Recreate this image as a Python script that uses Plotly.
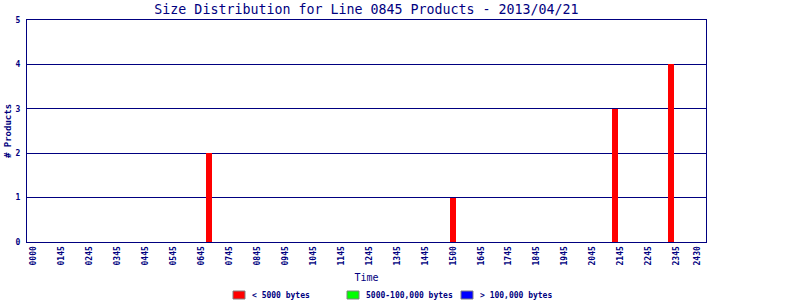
import plotly.graph_objects as go

# Data
bar_hours = [6.29, 15.0, 20.79, 22.79]          # bar positions (hours on time axis)
small_counts = [2, 1, 3, 4]                      # < 5000 bytes
medium_counts = [0, 0, 0, 0]                     # 5000-100,000 bytes
large_counts = [0, 0, 0, 0]                      # > 100,000 bytes
tick_pos = list(range(24)) + [23.75]
tick_labels = ["0000", "0145", "0245", "0345", "0445", "0545", "0645", "0745",
               "0845", "0945", "1045", "1145", "1245", "1345", "1445", "1500",
               "1645", "1745", "1845", "1945", "2045", "2145", "2245", "2345", "2430"]
series_names = ["< 5000 bytes", "5000-100,000 bytes", "> 100,000 bytes"]
series_colors = ["#ff0000", "#00ff00", "#0000ff"]

NAVY = "#000080"
FONT = "DejaVu Sans Mono"
W, H = 800, 300
ML, MR, MT, MB = 27, 94, 20, 58
PW, PH = W - ML - MR, H - MT - MB

fig = go.Figure()
for name, vals, col in zip(series_names, [small_counts, medium_counts, large_counts], series_colors):
    fig.add_trace(go.Bar(x=bar_hours, y=vals, width=0.215, name=name,
                         marker=dict(color=col, line=dict(width=0)), showlegend=False))

# manual legend (swatch + label) below the plot
def px_x(px):
    return (px - ML) / PW

def px_y(py):
    return (H - MB - py) / PH

legend_x = [233, 347, 461]
for lx, name, col in zip(legend_x, series_names, series_colors):
    fig.add_shape(type="rect", xref="paper", yref="paper",
                  x0=px_x(lx), x1=px_x(lx + 12), y0=px_y(299), y1=px_y(291),
                  fillcolor=col, line=dict(color="#808080", width=1))
    fig.add_annotation(text=name, xref="paper", yref="paper", x=px_x(lx + 17), y=px_y(295),
                       xanchor="left", yanchor="middle", showarrow=False,
                       font=dict(family=FONT, size=8, color=NAVY, weight="bold"))

fig.update_layout(
    width=W, height=H,
    margin=dict(l=ML, r=MR, t=MT, b=MB, autoexpand=False),
    paper_bgcolor="white", plot_bgcolor="white",
    barmode="stack", showlegend=False,
    title=dict(text="Size Distribution for Line 0845 Products - 2013/04/21",
               xref="paper", x=0.5, xanchor="center", yref="container", y=0.97, yanchor="middle",
               font=dict(family=FONT, size=13.3, color=NAVY)),
    font=dict(family=FONT, color=NAVY),
    xaxis=dict(range=[-0.214, 24.04], tickvals=tick_pos, ticktext=tick_labels,
               tickangle=-90, tickfont=dict(family=FONT, size=8, color=NAVY, weight="bold"),
               showgrid=False, zeroline=False, showline=True, linecolor=NAVY,
               linewidth=1, mirror=True, ticks="", automargin=False,
               title=dict(text="Time", font=dict(family=FONT, size=10, color=NAVY), standoff=9)),
    yaxis=dict(range=[0, 5], tickvals=[0, 1, 2, 3, 4, 5],
               tickfont=dict(family=FONT, size=8, color=NAVY, weight="bold"), ticklabelstandoff=4,
               showgrid=True, gridcolor=NAVY, gridwidth=1, zeroline=False,
               showline=True, linecolor=NAVY, linewidth=1, mirror=True, ticks="", automargin=False,
               title=dict(text="# Products", font=dict(family=FONT, size=9, color=NAVY, weight="bold"),
                          standoff=2)),
)

fig.write_html("out.html")
